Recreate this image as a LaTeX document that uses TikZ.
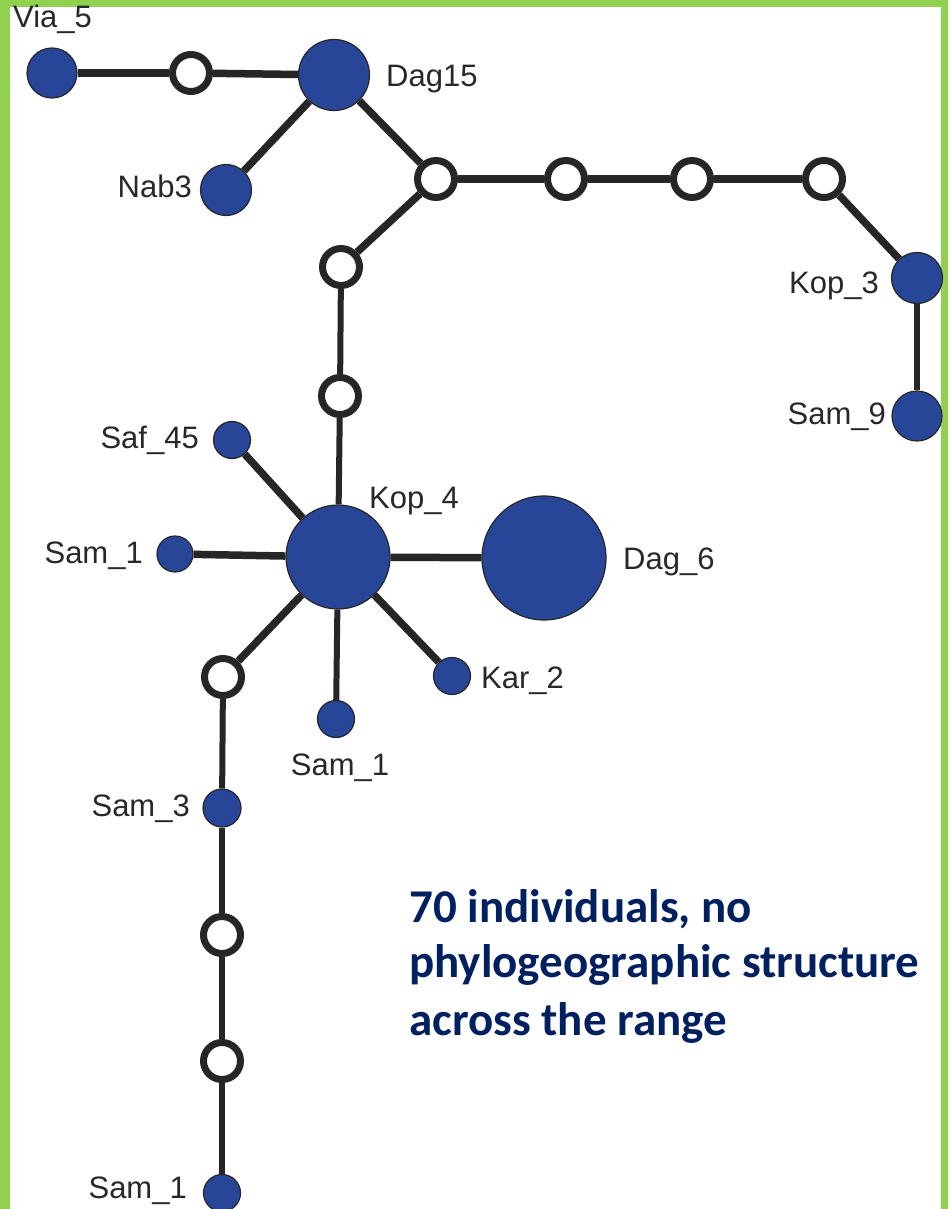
\documentclass[tikz,border=0pt]{standalone}
\usepackage{fontspec}
\setmainfont{Liberation Sans}
\newfontfamily\carl{Carlito}
\definecolor{hapblue}{RGB}{39,70,152}
\definecolor{edgec}{RGB}{38,38,38}
\definecolor{lblc}{RGB}{40,40,40}
\definecolor{navy}{RGB}{0,32,96}
\definecolor{framegreen}{RGB}{146,208,80}
\begin{document}
\begin{tikzpicture}[x=1pt,y=-1pt,
  hap/.style={circle,fill=hapblue,draw=edgec,line width=1.2pt,inner sep=0pt,minimum size=#1},
  med/.style={circle,fill=white,draw=edgec,line width=7pt,inner sep=0pt,minimum size=37pt},
  lbl/.style={text=lblc,font=\fontsize{31}{37}\selectfont,inner sep=0pt},
  lk/.style={draw=edgec,line width=7.5pt},
  lkt/.style={draw=edgec,line width=6pt},
  note/.style={text=navy,font=\carl\bfseries\fontsize{47}{57}\selectfont,inner sep=0pt,anchor=base west}]
\useasboundingbox (0,0) rectangle (948,1209);
\fill[white] (0,0) rectangle (948,1209);
\fill[framegreen] (0,0) rectangle (948,7);
\fill[framegreen] (0,0) rectangle (10,1209);
\fill[framegreen] (941,0) rectangle (948,1209);

% haplotypes
\node[hap=50pt] (via) at (52,73) {};
\node[med] (m1) at (191,73) {};
\node[hap=71pt] (dag15) at (334,75) {};
\node[hap=51pt] (nab) at (226,190) {};
\node[med] (m2) at (436,179) {};
\node[med] (m3) at (566,179) {};
\node[med] (m4) at (692,179) {};
\node[med] (m5) at (824,179) {};
\node[hap=51pt] (kop3) at (917,278) {};
\node[hap=50pt] (sam9) at (917,416) {};
\node[med] (m6) at (341,267) {};
\node[med] (m7) at (340,396) {};
\node[hap=37pt] (saf) at (232,440) {};
\node[hap=104pt] (kop4) at (338,557) {};
\node[hap=124pt] (dag6) at (544,558) {};
\node[hap=36pt] (saml) at (175,554) {};
\node[med] (m8) at (223,677) {};
\node[hap=37pt] (samc) at (336,719) {};
\node[hap=37pt] (kar) at (452,676) {};
\node[hap=38pt] (sam3) at (222,808) {};
\node[med] (m9) at (222,935) {};
\node[med] (m10) at (222,1061) {};
\node[hap=37pt] (samb) at (222,1193) {};

% links
\draw[lk] (via) -- (m1);
\draw[lk] (m1) -- (dag15);
\draw[lk] (dag15) -- (nab);
\draw[lk] (dag15) -- (m2);
\draw[lk] (m2) -- (m3);
\draw[lk] (m3) -- (m4);
\draw[lk] (m4) -- (m5);
\draw[lk] (m5) -- (kop3);
\draw[lkt] (kop3) -- (sam9);
\draw[lk] (m2) -- (m6);
\draw[lkt] (m6) -- (m7);
\draw[lkt] (m7) -- (kop4);
\draw[lk] (kop4) -- (saf);
\draw[lk] (kop4) -- (saml);
\draw[lk] (kop4) -- (dag6);
\draw[lk] (kop4) -- (m8);
\draw[lkt] (kop4) -- (samc);
\draw[lk] (kop4) -- (kar);
\draw[lkt] (m8) -- (sam3);
\draw[lkt] (sam3) -- (m9);
\draw[lkt] (m9) -- (m10);
\draw[lkt] (m10) -- (samb);

% labels
\node[lbl,anchor=base west] (lvia) at (13,28) {Via\_5};
\node[lbl,anchor=base west] (ldag15) at (386,87) {Dag15};
\node[lbl,anchor=base east] (lnab) at (192,197) {Nab3};
\node[lbl,anchor=base east] (lkop3) at (879,293) {Kop\_3};
\node[lbl,anchor=base east] (lsam9) at (886,424) {Sam\_9};
\node[lbl,anchor=base east] (lsaf) at (199,448) {Saf\_45};
\node[lbl,anchor=base west] (lkop4) at (369,508) {Kop\_4};
\node[lbl,anchor=base east] (lsaml) at (143,563) {Sam\_1};
\node[lbl,anchor=base west] (ldag6) at (623,569) {Dag\_6};
\node[lbl,anchor=base west] (lkar) at (481,688) {Kar\_2};
\node[lbl,anchor=base] (lsamc) at (340,775) {Sam\_1};
\node[lbl,anchor=base east] (lsam3) at (190,816) {Sam\_3};
\node[lbl,anchor=base east] (lsamb) at (187,1198) {Sam\_1};

% note
\node[note] (t1) at (409,922) {70 individuals, no};
\node[note] (t2) at (409,977) {phylogeographic structure};
\node[note] (t3) at (409,1035) {across the range};
\end{tikzpicture}
\end{document}
